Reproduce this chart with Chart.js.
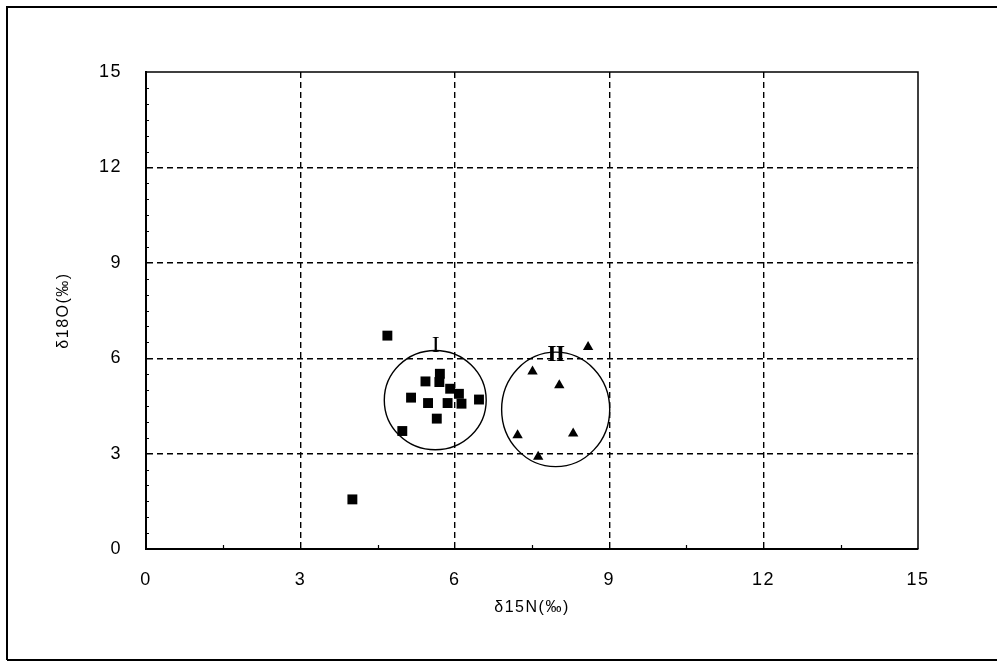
<!DOCTYPE html>
<html>
<head>
<meta charset="utf-8">
<script src="https://cdn.jsdelivr.net/npm/chart.js@4/dist/chart.umd.min.js"></script>
<style>
  html, body { margin: 0; padding: 0; background: #fff; }
  .wrap { width: 997px; height: 662px; position: relative; }
</style>
</head>
<body>
<div class="wrap"><canvas id="c"></canvas></div>
<script>
// groupe I (carrés)
const groupIx = [4.69, 5.43, 5.71, 5.70, 5.91, 6.08, 6.13, 5.86, 5.48, 5.15, 6.47, 5.65, 4.98, 4.01];
const groupIy = [6.71, 5.27, 5.51, 5.25, 5.04, 4.88, 4.57, 4.59, 4.59, 4.76, 4.70, 4.10, 3.71, 1.56];

// groupe II (triangles)
const groupIIx = [8.59, 7.51, 8.03, 7.22, 8.30, 7.62];
const groupIIy = [6.35, 5.58, 5.15, 3.58, 3.63, 2.90];

// cercles des groupes (unités des axes)
const groupNames = ["I", "II"];
const groupCx = [5.62, 7.96];
const groupCy = [4.68, 4.39];
const groupRx = [0.99, 1.05];
const groupRy = [1.56, 1.80];

const tickValues = [0, 3, 6, 9, 12, 15];

const toPts = (xs, ys) => xs.map((x, i) => ({ x: x, y: ys[i] }));

const FONT = "'Liberation Sans', Arial, sans-serif";

// espacement des lettres comme sur le scan
const spacing = {
  id: "spacing",
  beforeDraw(chart) { chart.ctx.letterSpacing = "1.5px"; },
  afterDraw(chart) { chart.ctx.letterSpacing = "0px"; }
};

// cadre extérieur, cadre du graphique, petites graduations, cercles
const extras = {
  id: "extras",
  afterDraw(chart) {
    const ctx = chart.ctx;
    const a = chart.chartArea;
    const sx = chart.scales.x, sy = chart.scales.y;
    ctx.save();
    ctx.strokeStyle = "#000";

    // cadre extérieur
    ctx.lineWidth = 2;
    ctx.beginPath();
    ctx.moveTo(7, 660);
    ctx.lineTo(7, 7);
    ctx.lineTo(997, 7);
    ctx.moveTo(7, 660);
    ctx.lineTo(997, 660);
    ctx.stroke();

    // haut et droite du graphique
    ctx.lineWidth = 1.5;
    ctx.beginPath();
    ctx.moveTo(a.left, a.top);
    ctx.lineTo(a.right, a.top);
    ctx.lineTo(a.right, a.bottom);
    ctx.stroke();

    // petites graduations
    ctx.lineWidth = 1.2;
    ctx.beginPath();
    for (let v = 0.5; v < 15; v += 0.5) {
      if (v % 3 === 0) continue;
      const py = Math.round(sy.getPixelForValue(v)) + 0.5;
      ctx.moveTo(a.left, py);
      ctx.lineTo(a.left + 3, py);
    }
    for (let v = 1.5; v < 15; v += 3) {
      const px = Math.round(sx.getPixelForValue(v)) + 0.5;
      ctx.moveTo(px, a.bottom);
      ctx.lineTo(px, a.bottom - 4);
    }
    ctx.stroke();

    // cercles I et II
    ctx.lineWidth = 1.4;
    for (let i = 0; i < groupNames.length; i++) {
      const cx = sx.getPixelForValue(groupCx[i]);
      const cy = sy.getPixelForValue(groupCy[i]);
      const rx = sx.getPixelForValue(groupCx[i] + groupRx[i]) - cx;
      const ry = cy - sy.getPixelForValue(groupCy[i] + groupRy[i]);
      ctx.beginPath();
      ctx.ellipse(cx, cy, rx, ry, 0, 0, Math.PI * 2);
      ctx.stroke();

      ctx.fillStyle = "#000";
      ctx.textAlign = "center";
      ctx.textBaseline = "alphabetic";
      ctx.letterSpacing = "-1px";
      ctx.font = (i === 0 ? "400 " : "700 ") + "24px 'Liberation Serif'";
      ctx.fillText(groupNames[i], cx, cy - ry + (i === 0 ? 1 : 9));
    }
    ctx.restore();
  }
};

new Chart(document.getElementById("c").getContext("2d"), {
  type: "scatter",
  data: {
    datasets: [
      {
        label: "I",
        data: toPts(groupIx, groupIy),
        pointStyle: "rect",
        pointRadius: 7,
        pointBorderWidth: 0,
        backgroundColor: "#000",
        borderColor: "#000"
      },
      {
        label: "II",
        data: toPts(groupIIx, groupIIy),
        pointStyle: "triangle",
        pointRadius: 6,
        pointBorderWidth: 0,
        backgroundColor: "#000",
        borderColor: "#000"
      }
    ]
  },
  options: {
    responsive: true,
    maintainAspectRatio: false,
    animation: false,
    layout: { padding: { top: 72, right: 79, bottom: 0, left: 0 } },
    plugins: {
      legend: { display: false },
      tooltip: { enabled: false }
    },
    scales: {
      x: {
        type: "linear",
        min: 0,
        max: 15,
        afterBuildTicks: (s) => { s.ticks = tickValues.map(v => ({ value: v })); },
        afterFit: (s) => { s.height = 113; },
        grid: {
          color: (c) => (c.tick && (c.tick.value === 0 || c.tick.value === 15)) ? "rgba(0,0,0,0)" : "#000",
          lineWidth: 1.4,
          drawTicks: false
        },
        border: { color: "#000", width: 2, dash: [6, 4] },
        ticks: {
          color: "#000",
          padding: 20,
          font: { family: FONT, size: 18 },
          maxRotation: 0
        },
        title: {
          display: true,
          text: "δ15N(‰)",
          color: "#000",
          font: { family: FONT, size: 16 },
          padding: { top: 0, bottom: 45 }
        }
      },
      y: {
        type: "linear",
        min: 0,
        max: 15,
        afterBuildTicks: (s) => { s.ticks = tickValues.map(v => ({ value: v })); },
        afterFit: (s) => { s.width = 146; },
        grid: {
          color: (c) => (c.tick && (c.tick.value === 0 || c.tick.value === 15)) ? "rgba(0,0,0,0)" : "#000",
          lineWidth: 1.4,
          drawTicks: false
        },
        border: { color: "#000", width: 2, dash: [6, 4] },
        ticks: {
          color: "#000",
          padding: 24,
          font: { family: FONT, size: 18 }
        },
        title: {
          display: true,
          text: "δ18O(‰)",
          color: "#000",
          font: { family: FONT, size: 16 },
          padding: { top: 54, bottom: 0 }
        }
      }
    }
  },
  plugins: [spacing, extras]
});
</script>
</body>
</html>
